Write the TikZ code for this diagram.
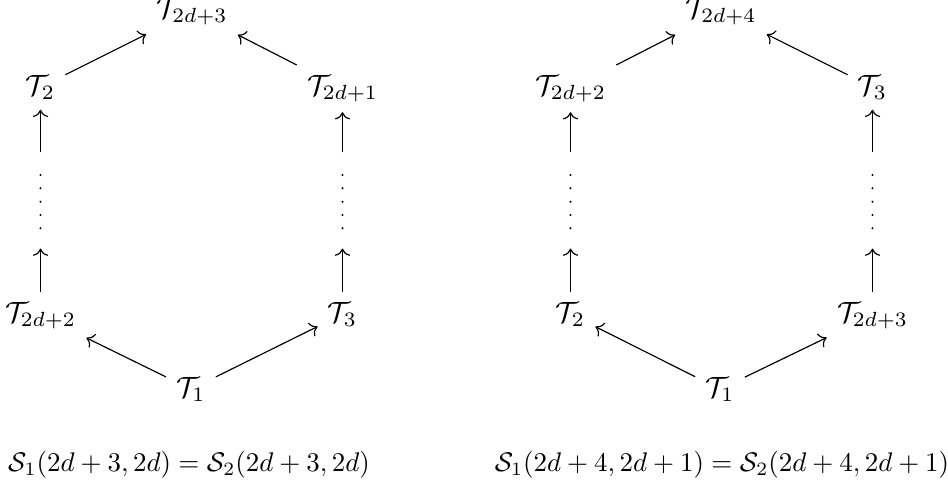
\documentclass[tikz,border=0pt]{standalone}
\usetikzlibrary{cd}
\begin{document}
\begin{tikzpicture}[x=0.3413pt,y=-0.3413pt,
  cell/.style={inner sep=3.33pt, anchor=base},
  dotcol/.style={inner sep=0pt, minimum width=2pt, minimum height=32.4pt},
  arr/.style={-{cm to}, line width=0.4pt},
  vdot/.style={fill=black, draw=none},
  caption/.style={anchor=base, inner sep=0pt}]
\useasboundingbox (0,0) rectangle (948,488);
% ---------- left diagram ----------
\node[cell] (lt) at (192,18) {$\mathcal{T}_{2d+3}$};
\node[cell] (la) at (40.5,95) {$\mathcal{T}_{2}$};
\node[cell] (lb) at (342.5,95) {$\mathcal{T}_{2d+1}$};
\node[dotcol] (ldl) at (40.5,200.5) {};
\node[dotcol] (ldr) at (342.5,200.5) {};
\node[cell] (lc) at (40.5,322) {$\mathcal{T}_{2d+2}$};
\node[cell] (ld) at (342.5,322) {$\mathcal{T}_{3}$};
\node[cell] (le) at (191,397) {$\mathcal{T}_{1}$};
\foreach \yy in {175,188.3,201.7,215,228.3}{
  \fill[vdot] (ldl.center |- 0,\yy) circle (1.1);
  \fill[vdot] (ldr.center |- 0,\yy) circle (1.1);
}
\draw[arr] (le) -- (lc);
\draw[arr] (le) -- (ld);
\draw[arr] (lc) -- (ldl);
\draw[arr] (ld) -- (ldr);
\draw[arr] (ldl) -- (la);
\draw[arr] (ldr) -- (lb);
\draw[arr] (la) -- (lt);
\draw[arr] (lb) -- (lt);
% ---------- right diagram ----------
\node[cell] (rt) at (721,18) {$\mathcal{T}_{2d+4}$};
\node[cell] (ra) at (570.5,95) {$\mathcal{T}_{2d+2}$};
\node[cell] (rb) at (872.5,95) {$\mathcal{T}_{3}$};
\node[dotcol] (rdl) at (570.5,200.5) {};
\node[dotcol] (rdr) at (872.5,200.5) {};
\node[cell] (rc) at (570.5,322) {$\mathcal{T}_{2}$};
\node[cell] (rd) at (872.5,322) {$\mathcal{T}_{2d+3}$};
\node[cell] (re) at (720,397) {$\mathcal{T}_{1}$};
\foreach \yy in {175,188.3,201.7,215,228.3}{
  \fill[vdot] (rdl.center |- 0,\yy) circle (1.1);
  \fill[vdot] (rdr.center |- 0,\yy) circle (1.1);
}
\draw[arr] (re) -- (rc);
\draw[arr] (re) -- (rd);
\draw[arr] (rc) -- (rdl);
\draw[arr] (rd) -- (rdr);
\draw[arr] (rdl) -- (ra);
\draw[arr] (rdr) -- (rb);
\draw[arr] (ra) -- (rt);
\draw[arr] (rb) -- (rt);
% ---------- captions ----------
\node[caption] (capl) at (189,471) {\scalebox{0.92}{$\mathcal{S}_1(2d+3,2d)=\mathcal{S}_2(2d+3,2d)$}};
\node[caption] (capr) at (722,471) {\scalebox{0.92}{$\mathcal{S}_1(2d+4,2d+1)=\mathcal{S}_2(2d+4,2d+1)$}};
\end{tikzpicture}
\end{document}
